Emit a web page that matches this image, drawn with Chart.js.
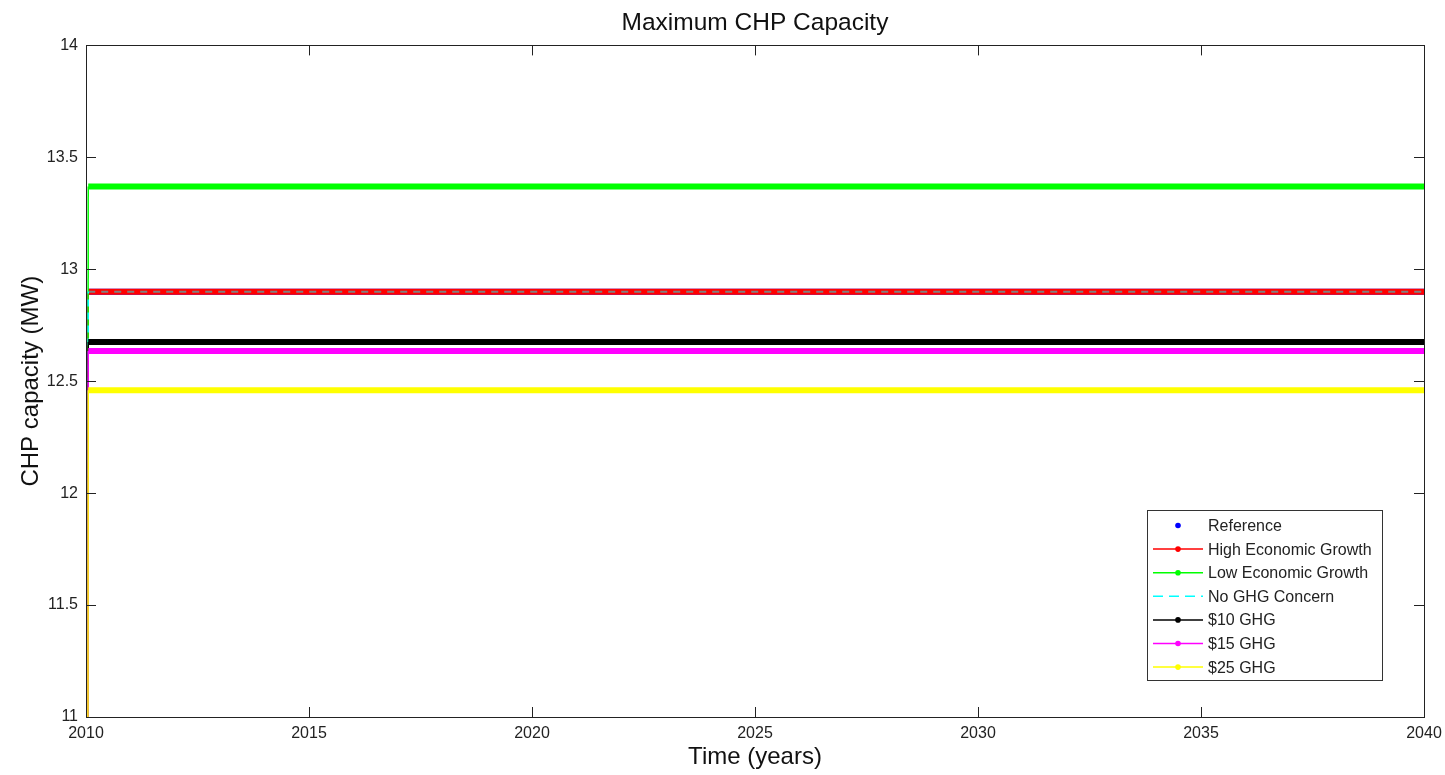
<!DOCTYPE html>
<html>
<head>
<meta charset="utf-8">
<title>Maximum CHP Capacity</title>
<script src="https://cdn.jsdelivr.net/npm/chart.js@4/dist/chart.umd.min.js"></script>
<style>
  body { margin: 0; background: #fff; }
  #wrap { width: 1445px; height: 775px; position: relative; }
</style>
</head>
<body>
<div id="wrap"><canvas id="chartID"></canvas></div>
<script>
// scenario names and matlab-ish colours
const scenarios = ['Reference', 'High Economic Growth', 'Low Economic Growth', 'No GHG Concern', '$10 GHG', '$15 GHG', '$25 GHG']
const colors = ['#0000ff', '#ff0000', '#00ff00', '#00ffff', '#000000', '#ff00ff', '#ffff00']

// time points (years) and capacity values (MW)
const years = [2010, 2010.05, 2040]
const reference = [0, 12.90, 12.90]
const highGrowth = [0, 12.90, 12.90]
const lowGrowth = [0, 13.37, 13.37]
const noGhg = [0, 12.90, 12.90]
const ghg10 = [0, 12.675, 12.675]
const ghg15 = [0, 12.635, 12.635]
const ghg25 = [0, 12.46, 12.46]

const xTicks = [2010, 2015, 2020, 2025, 2030, 2035, 2040]
const yTicks = [11, 11.5, 12, 12.5, 13, 13.5, 14]

const seriesValues = [reference, highGrowth, lowGrowth, noGhg, ghg10, ghg15, ghg25]
const FONT = 'Arial, "Liberation Sans", sans-serif'

function toPoints(vals) {
	return vals.map(function(v, i) { return { x: years[i], y: v } })
}

const datasets = scenarios.map(function(name, i) {
	const dashed = name === 'No GHG Concern'
	return {
		label: name,
		data: toPoints(seriesValues[i]),
		borderColor: colors[i],
		backgroundColor: colors[i],
		borderWidth: dashed ? 2 : 6,
		borderDash: dashed ? [7, 6] : [],
		pointRadius: 0,
		fill: false,
		tension: 0,
		// later series sit on top like in matlab
		order: scenarios.length - i,
		segment: {
			borderWidth: function(ctx) { return ctx.p0DataIndex === 0 ? 1.5 : (dashed ? 2 : 6) },
			// the dashed cyan mixes with the red band underneath (greyish dashes)
			borderColor: function(ctx) { return dashed && ctx.p0DataIndex > 0 ? 'rgba(0,255,255,0.5)' : colors[i] },
		},
	}
})

// inward tick marks on all four sides plus the frame
const frameTicks = {
	id: 'frameTicks',
	afterLayout: function(chart) {
		// centre the title over the plot box, not the whole canvas
		const a = chart.chartArea
		if (chart.titleBlock) {
			chart.titleBlock.left = a.left
			chart.titleBlock.right = a.right
			chart.titleBlock.width = a.right - a.left
		}
	},
	afterDatasetsDraw: function(chart) {
		const ctx = chart.ctx
		const a = chart.chartArea
		const xs = chart.scales.x
		const ys = chart.scales.y
		const len = 10
		ctx.save()
		ctx.strokeStyle = '#222'
		ctx.lineWidth = 1
		ctx.beginPath()
		xTicks.forEach(function(t) {
			const px = Math.round(xs.getPixelForValue(t)) + 0.5
			ctx.moveTo(px, a.bottom); ctx.lineTo(px, a.bottom - len)
			ctx.moveTo(px, a.top); ctx.lineTo(px, a.top + len)
		})
		yTicks.forEach(function(t) {
			const py = Math.round(ys.getPixelForValue(t)) + 0.5
			ctx.moveTo(a.left, py); ctx.lineTo(a.left + len, py)
			ctx.moveTo(a.right, py); ctx.lineTo(a.right - len, py)
		})
		ctx.stroke()
		ctx.strokeRect(Math.round(a.left) + 0.5, Math.round(a.top) + 0.5, Math.round(a.right - a.left), Math.round(a.bottom - a.top))
		ctx.restore()
	},
}

// legend box in the lower right, drawn by hand
const boxLegend = {
	id: 'boxLegend',
	afterDraw: function(chart) {
		const ctx = chart.ctx
		const bx = 1147, by = 510, bw = 235, bh = 170
		const rowH = 23.6
		ctx.save()
		ctx.fillStyle = '#fff'
		ctx.fillRect(bx, by, bw, bh)
		ctx.strokeStyle = '#333'
		ctx.lineWidth = 1
		ctx.strokeRect(bx + 0.5, by + 0.5, bw, bh)
		ctx.font = '16px ' + FONT
		ctx.textBaseline = 'middle'
		scenarios.forEach(function(name, i) {
			const y = by + 15.5 + i * rowH
			ctx.strokeStyle = colors[i]
			ctx.fillStyle = colors[i]
			if (name !== 'Reference') {
				ctx.lineWidth = 1.5
				ctx.setLineDash(name === 'No GHG Concern' ? [10, 6] : [])
				ctx.beginPath()
				ctx.moveTo(1153, y); ctx.lineTo(1203, y)
				ctx.stroke()
				ctx.setLineDash([])
			}
			if (name !== 'No GHG Concern') {
				ctx.beginPath()
				ctx.arc(1178, y, 2.8, 0, Math.PI * 2)
				ctx.fill()
			}
			ctx.fillStyle = '#222'
			ctx.fillText(name, 1208, y + 1)
		})
		ctx.restore()
	},
}

window.onload = function() {
	let chartCtx = document.getElementById('chartID').getContext('2d')
	window.lineChart = new Chart(chartCtx, {
		type: 'line',
		data: { datasets: datasets },
		plugins: [frameTicks, boxLegend],
		options: {
			responsive: true,
			maintainAspectRatio: false,
			animation: false,
			layout: { padding: { left: 0, right: 21, top: 0, bottom: 0 } },
			plugins: {
				legend: { display: false },
				tooltip: { enabled: false },
				title: {
					display: true,
					text: 'Maximum CHP Capacity',
					color: '#111',
					font: { family: FONT, size: 24.5, weight: 'normal' },
					padding: { top: 9, bottom: 7 },
				},
			},
			scales: {
				x: {
					type: 'linear',
					min: 2010,
					max: 2040,
					grid: { display: false, drawTicks: false },
					border: { display: false },
					afterBuildTicks: function(scale) { scale.ticks = xTicks.map(function(v) { return { value: v } }) },
					ticks: {
						color: '#222',
						font: { family: FONT, size: 16 },
						padding: 7,
						maxRotation: 0,
						callback: function(v) { return String(v) },
					},
					title: {
						display: true,
						text: 'Time (years)',
						color: '#111',
						font: { family: FONT, size: 24 },
						padding: { top: 0, bottom: 3 },
					},
					afterFit: function(scale) {
						scale.height = 58
						scale.paddingLeft = 0
						scale.paddingRight = 0
					},
				},
				y: {
					min: 11,
					max: 14,
					grid: { display: false, drawTicks: false },
					border: { display: false },
					afterBuildTicks: function(scale) { scale.ticks = yTicks.map(function(v) { return { value: v } }) },
					ticks: {
						color: '#222',
						font: { family: FONT, size: 16 },
						padding: 8,
						callback: function(v) { return String(v) },
					},
					title: {
						display: true,
						text: 'CHP capacity (MW)',
						color: '#111',
						font: { family: FONT, size: 24 },
						padding: { top: 17, bottom: 0 },
					},
					afterFit: function(scale) {
						scale.width = 86
						scale.paddingTop = 0
						scale.paddingBottom = 0
					},
				},
			},
		},
	})
}
</script>
</body>
</html>
